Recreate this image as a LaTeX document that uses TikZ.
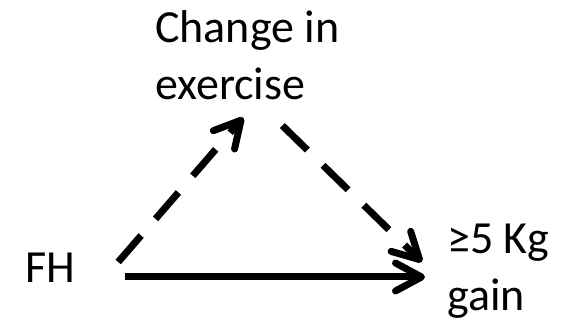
\documentclass[tikz,border=0pt]{standalone}
\usepackage{fontspec}
\setmainfont{Carlito}
\usetikzlibrary{positioning, arrows.meta}
\tikzset{label/.style={inner sep=0pt, align=left, font=\fontsize{46}{57}\selectfont}}
\tikzset{causal/.style={line width=7pt, -{Straight Barb[length=26pt,width=28pt,round]}}}
\tikzset{maybe/.style={causal, dash pattern=on 35pt off 22pt}}

\begin{document}
\begin{tikzpicture}[x=1pt, y=1pt]
            \useasboundingbox (0,0) rectangle (563,321);
            % base of a two-line node is its last line
            \node[label, anchor=base west] (change) at (155,221) {Change in\\exercise};
            \node[label, anchor=base west] (fh) at (25,38) {FH};
            \node[label, anchor=base west] (gain) at (447,10) {≥5 Kg\\gain};
            % dashed paths go through the change in exercise
            \draw[maybe] ([shift={(43,21)}]fh.base east) -- ([shift={(-4,-17)}]change.south);
            \draw[maybe] ([shift={(35,-25)}]change.south) -- ([shift={(-25,49)}]gain.base west);
            \draw[causal] ([shift={(50,6)}]fh.base east) -- ([shift={(-22,34)}]gain.base west);
        \end{tikzpicture}
\end{document}
